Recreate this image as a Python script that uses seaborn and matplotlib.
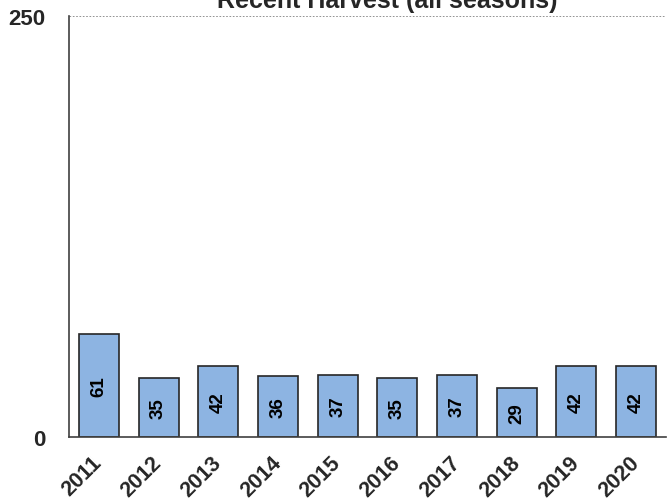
import numpy as np
import pandas as pd
import matplotlib
matplotlib.use('Agg')
import matplotlib.pyplot as plt
import seaborn as sns

years = ['2011', '2012', '2013', '2014', '2015', '2016', '2017', '2018', '2019', '2020']
harvest = [61, 35, 42, 36, 37, 35, 37, 29, 42, 42]

df = pd.DataFrame({'Year': years, 'Harvest': harvest})

sns.set_style('white')
plt.rcParams['font.family'] = ['Liberation Sans', 'DejaVu Sans']

fig = plt.figure(figsize=(6.7, 5.02), dpi=100)
ax = fig.add_axes([0.103, 0.1275, 0.891, 0.8385])

sns.barplot(data=df, x='Year', y='Harvest', color='#8DB4E2', edgecolor='#262626',
            linewidth=1.2, width=0.67, saturation=1, ax=ax)

# value labels inside the bars
for i, v in enumerate(harvest):
    ax.text(i, v / 2, str(v), rotation=90, ha='center', va='center',
            fontsize=13.5, fontweight='bold', color='black')

ax.set_ylim(0, 250)
ax.set_xlim(-0.5, len(years) - 0.5)
ax.set_yticks([0, 250])
ax.set_yticklabels(['0', '250'], fontsize=16, fontweight='bold')
ax.set_xticks(range(len(years)))
ax.set_xticklabels(years, rotation=45, ha='right', va='center', rotation_mode='anchor',
                   fontsize=15.5, fontweight='bold')
ax.tick_params(axis='x', length=0, pad=16)
ax.set_xticks(np.arange(-0.5, len(years)), minor=True)
ax.tick_params(axis='x', which='minor', direction='out', length=5, width=1, color='#404040')
ax.tick_params(axis='y', direction='out', length=5, width=1, color='#404040', pad=12)

ax.axhline(250, color='#808080', linestyle=(0, (2, 2)), linewidth=0.6)

for s in ['top', 'right']:
    ax.spines[s].set_visible(False)
for s in ['left', 'bottom']:
    ax.spines[s].set_color('#404040')
    ax.spines[s].set_linewidth(1.2)

ax.set_xlabel('')
ax.set_ylabel('')
fig.text(0.578, 0.984, 'Recent Harvest (all seasons)', ha='center', va='baseline',
         fontsize=18, fontweight='bold')

fig.savefig('out.png', dpi=100)
